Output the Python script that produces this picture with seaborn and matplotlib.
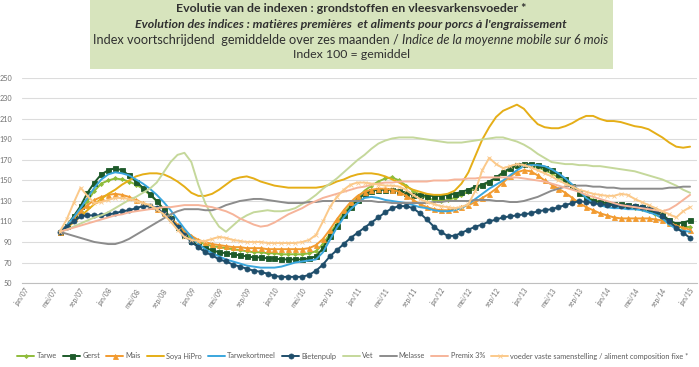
import matplotlib
matplotlib.use("Agg")
import matplotlib.pyplot as plt
from matplotlib.patches import Rectangle
import seaborn as sns
import pandas as pd

# ---------------- data ----------------
tick_labels = ["jan/07", "mei/07", "sep/07", "jan/08", "mei/08", "sep/08", "jan/09",
               "mei/09", "sep/09", "jan/10", "mei/10", "sep/10", "jan/11", "mei/11",
               "sep/11", "jan/12", "mei/12", "sep/12", "jan/13", "mei/13", "sep/13",
               "jan/14", "mei/14", "sep/14", "jan/15"]
# month index 0 = jan/07; series run from jun/07 (5) to jan/15 (96)
months = list(range(5, 97))

tarwe = [100, 105, 112, 120, 130, 140, 147, 150, 152, 151,
         149, 146, 142, 136, 130, 122, 114, 106, 99, 94,
         90, 88, 86, 85, 84, 83, 82, 81, 80, 80,
         79, 79, 78, 78, 78, 78, 79, 81, 88, 98,
         108, 118, 126, 133, 140, 145, 149, 152, 153, 150,
         145, 140, 136, 133, 131, 130, 131, 133, 136, 139,
         142, 145, 148, 152, 157, 161, 164, 165, 165, 163,
         160, 157, 153, 149, 144, 139, 134, 131, 129, 127,
         126, 125, 124, 123, 122, 120, 117, 113, 108, 105,
         104, 105]
gerst = [100, 106, 115, 125, 138, 148, 156, 160, 162, 160,
         155, 149, 143, 137, 130, 122, 113, 105, 97, 91,
         87, 84, 82, 80, 79, 78, 77, 76, 75, 75,
         74, 74, 73, 73, 73, 73, 74, 76, 84, 96,
         106, 116, 124, 131, 137, 140, 141, 141, 141, 140,
         138, 136, 136, 135, 135, 135, 136, 137, 139, 141,
         144, 146, 149, 153, 158, 162, 165, 166, 166, 165,
         162, 160, 156, 151, 145, 138, 133, 130, 129, 128,
         127, 127, 126, 125, 124, 122, 120, 117, 111, 108,
         109, 111]
mais = [100, 106, 113, 120, 126, 131, 134, 136, 137, 136,
        134, 131, 128, 125, 122, 118, 113, 107, 101, 96,
        92, 90, 88, 87, 86, 85, 85, 84, 84, 84,
        83, 83, 83, 83, 83, 83, 84, 87, 93, 102,
        112, 121, 129, 135, 139, 141, 142, 142, 141, 139,
        135, 131, 127, 124, 122, 121, 121, 122, 124, 126,
        129, 133, 137, 142, 148, 154, 158, 160, 159, 155,
        150, 146, 142, 138, 133, 128, 124, 121, 118, 116,
        114, 113, 113, 113, 113, 113, 112, 111, 109, 106,
        104, 102]
soya = [100, 104, 109, 115, 121, 127, 132, 137, 141, 146,
        150, 154, 156, 157, 157, 156, 153, 149, 144, 138,
        135, 135, 137, 141, 146, 151, 153, 154, 152, 149,
        147, 145, 144, 143, 143, 143, 143, 143, 144, 146,
        149, 151, 154, 156, 157, 157, 156, 154, 151, 148,
        144, 141, 139, 137, 136, 136, 137, 140, 147, 158,
        174, 190, 202, 212, 218, 221, 224, 220, 212, 205,
        202, 201, 201, 203, 206, 210, 213, 213, 210, 208,
        208, 207, 205, 203, 202, 200, 196, 192, 187, 183,
        182, 183]
tarwekortmeel = [100, 106, 114, 123, 133, 143, 151, 156, 158, 157,
                 155, 151, 147, 142, 136, 129, 121, 112, 103, 95,
                 88, 83, 79, 76, 73, 71, 69, 67, 66, 65,
                 65, 65, 66, 68, 70, 71, 72, 73, 80, 92,
                 104, 114, 122, 128, 133, 134, 133, 131, 130, 129,
                 128, 126, 124, 123, 121, 120, 120, 121, 123, 127,
                 132, 137, 142, 146, 150, 155, 160, 164, 165, 165,
                 164, 161, 157, 152, 146, 140, 133, 128, 126, 124,
                 123, 123, 122, 122, 121, 119, 117, 113, 107, 103,
                 101, 100]
bietenpulp = [100, 105, 110, 115, 116, 116, 116, 117, 118, 120,
              121, 123, 125, 125, 123, 118, 112, 105, 97, 90,
              85, 80, 77, 73, 71, 68, 66, 64, 62, 61,
              59, 57, 56, 56, 56, 56, 58, 62, 68, 76,
              82, 88, 94, 99, 104, 109, 114, 119, 123, 125,
              125, 123, 118, 112, 105, 100, 96, 96, 99, 102,
              105, 107, 110, 112, 114, 115, 116, 117, 118, 120,
              121, 122, 124, 126, 128, 130, 129, 128, 127, 126,
              126, 125, 125, 125, 124, 123, 121, 115, 110, 104,
              99, 94]
vet = [100, 102, 105, 108, 111, 114, 116, 119, 123, 127,
       131, 134, 138, 142, 148, 158, 168, 175, 177, 168,
       146, 128, 115, 105, 100, 106, 112, 116, 119, 120,
       121, 120, 120, 121, 123, 127, 131, 136, 142, 147,
       152, 158, 164, 170, 175, 181, 186, 189, 191, 192,
       192, 192, 191, 190, 189, 188, 187, 187, 187, 188,
       189, 190, 191, 192, 192, 190, 188, 185, 181, 176,
       172, 168, 167, 166, 166, 165, 165, 164, 164, 163,
       162, 161, 160, 159, 157, 155, 153, 151, 148, 145,
       141, 138]
melasse = [100, 98, 96, 94, 92, 90, 89, 88, 88, 90,
           93, 97, 101, 105, 109, 113, 117, 120, 122, 122,
           122, 121, 121, 123, 126, 128, 130, 131, 132, 132,
           131, 130, 129, 128, 128, 128, 129, 129, 130, 130,
           130, 130, 130, 130, 130, 130, 129, 129, 128, 128,
           128, 128, 128, 128, 129, 129, 130, 130, 130, 130,
           131, 131, 131, 130, 130, 129, 129, 130, 132, 134,
           137, 140, 142, 144, 145, 145, 145, 144, 144, 143,
           143, 142, 142, 142, 142, 142, 142, 142, 143, 143,
           144, 144]
premix = [100, 102, 104, 106, 108, 110, 112, 114, 116, 117,
          119, 120, 121, 122, 123, 124, 124, 125, 126, 126,
          126, 125, 124, 122, 120, 117, 113, 110, 107, 105,
          106, 109, 113, 117, 120, 123, 127, 130, 133, 135,
          137, 139, 141, 143, 144, 146, 147, 148, 148, 149,
          149, 149, 149, 149, 150, 150, 150, 151, 151, 152,
          152, 153, 153, 153, 153, 153, 153, 152, 151, 150,
          149, 147, 145, 143, 141, 139, 136, 134, 132, 130,
          128, 126, 125, 124, 123, 122, 121, 120, 122, 126,
          131, 136]
voeder = [100, 112, 128, 143, 135, 128, 129, 131, 133, 133,
          132, 130, 128, 126, 122, 117, 110, 102, 95, 92,
          91, 91, 93, 95, 94, 92, 91, 90, 90, 90,
          89, 89, 89, 89, 89, 90, 92, 97, 110, 124,
          134, 141, 146, 148, 148, 147, 146, 145, 145, 144,
          141, 136, 132, 129, 127, 125, 124, 123, 124, 127,
          140, 160, 172, 166, 162, 164, 166, 165, 163, 160,
          157, 154, 150, 147, 144, 141, 139, 137, 136, 135,
          135, 137, 136, 132, 129, 126, 123, 120, 117, 114,
          120, 124]

series_names = ["Tarwe", "Gerst", "Mais", "Soya HiPro", "Tarwekortmeel", "Bietenpulp",
                "Vet", "Melasse", "Premix 3%",
                "voeder vaste samenstelling / aliment composition fixe *"]
series_values = [tarwe, gerst, mais, soya, tarwekortmeel, bietenpulp,
                 vet, melasse, premix, voeder]

# ---------------- styles ----------------
styles = [
    dict(color="#8fbc3b", marker="D", ms=2.0),
    dict(color="#1d5a2a", marker="s", ms=3.6),
    dict(color="#f29b30", marker="^", ms=3.6),
    dict(color="#e5ae17", marker=None, ms=0),
    dict(color="#3aa6dd", marker=None, ms=0),
    dict(color="#1f4e6b", marker="o", ms=3.6),
    dict(color="#c5d89b", marker=None, ms=0),
    dict(color="#8c8c8c", marker=None, ms=0),
    dict(color="#f6b49a", marker=None, ms=0),
    dict(color="#fbc98a", marker="x", ms=2.2),
]

sns.set_theme(style="white")
plt.rcParams['font.family'] = ['Lato', 'DejaVu Sans']

W, H = 699, 367
fig = plt.figure(figsize=(W / 100, H / 100), dpi=100)
ax = fig.add_axes([22 / W, 1 - 283 / H, 675 / W, 205 / H])

for name, vals, st in zip(series_names, series_values, styles):
    df = pd.DataFrame({"month": months, "value": vals})
    kw = dict(color=st["color"], linewidth=1.4, label=name)
    if st["marker"]:
        kw.update(marker=st["marker"], markersize=st["ms"], markeredgewidth=0.6,
                  markeredgecolor=st["color"], markerfacecolor=st["color"])
    sns.lineplot(data=df, x="month", y="value", ax=ax, estimator=None, **kw)

ax.set_xlim(-0.45, 97)
ax.set_ylim(50, 250)
ax.set_yticks(range(50, 251, 20))
ax.set_xticks(range(0, 97, 4))
ax.set_xticklabels(tick_labels, rotation=55, ha="right", rotation_mode="anchor",
                   fontsize=4.9, color="#707070")
ax.tick_params(axis="y", labelsize=5.2, labelcolor="#707070", length=0, pad=7)
ax.tick_params(axis="x", length=0, pad=3)
ax.set_xlabel("")
ax.set_ylabel("")
ax.yaxis.grid(True, color="#dcdcdc", linewidth=0.8)
ax.xaxis.grid(False)
for s in ["left", "top", "right"]:
    ax.spines[s].set_visible(False)
ax.spines["bottom"].set_color("#bfbfbf")
ax.spines["bottom"].set_linewidth(0.8)
if ax.get_legend():
    ax.get_legend().remove()

handles, labels = ax.get_legend_handles_labels()
fig.legend(handles, labels, loc="center", bbox_to_anchor=(0.505, 1 - 356 / H), ncol=10,
           frameon=False, fontsize=5.3, handlelength=2.3, handletextpad=0.3,
           columnspacing=0.85, labelcolor="#5a5a5a")

# ---------------- title box ----------------
fig.add_artist(Rectangle((90 / W, 1 - 69 / H), 523 / W, 69 / H, transform=fig.transFigure,
                         facecolor="#d7e4bd", edgecolor="none", zorder=0))
cx = 351 / W
tc = "#303030"
fig.text(cx, 1 - 9 / H, "Evolutie van de indexen : grondstoffen en vleesvarkensvoeder *",
         ha="center", va="center", fontsize=8.9, fontweight="bold", color=tc)
fig.text(cx, 1 - 24 / H,
         "Evolution des indices : matières premières  et aliments pour porcs à l'engraissement",
         ha="center", va="center", fontsize=8.9, fontweight="bold", fontstyle="italic", color=tc)
t1 = fig.text(0, 1 - 40 / H, "Index voortschrijdend  gemiddelde over zes maanden / ",
              ha="left", va="center", fontsize=9.2, color=tc)
t2 = fig.text(0, 1 - 40 / H, "Indice de la moyenne mobile sur 6 mois",
              ha="left", va="center", fontsize=9.2, fontstyle="italic", color=tc)
fig.canvas.draw()
r = fig.canvas.get_renderer()
w1 = t1.get_window_extent(r).width
w2 = t2.get_window_extent(r).width
start = cx * W - (w1 + w2) / 2
t1.set_x(start / W)
t2.set_x((start + w1) / W)
fig.text(cx, 1 - 55 / H, "Index 100 = gemiddel", ha="center", va="center",
         fontsize=8.9, color=tc)

fig.savefig("out.png", dpi=100)
